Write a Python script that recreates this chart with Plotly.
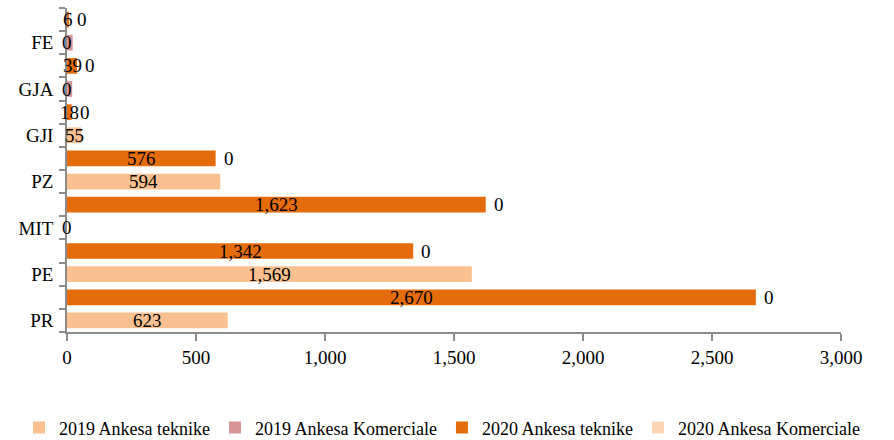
import plotly.graph_objects as go

categories = ["PR", "PE", "MIT", "PZ", "GJI", "GJA", "FE"]
teknike_2019 = [623, 1569, 0, 594, 55, 0, 0]
komerciale_2019 = [0, 0, 0, 0, 0, 20, 22]
teknike_2020 = [2670, 1342, 1623, 576, 18, 39, 6]
komerciale_2020 = [0, 0, 0, 0, 0, 0, 0]
x_ticks = [0, 500, 1000, 1500, 2000, 2500, 3000]

names = ["2019 Ankesa teknike", "2019 Ankesa Komerciale",
         "2020 Ankesa teknike", "2020 Ankesa Komerciale"]
colors = ["#FAC090", "#D99594", "#E46C0A", "#FCD5B5"]

FONT = "Liberation Serif"
FS = 19
slots_2019 = [2 * i for i in range(len(categories))]
slots_2020 = [2 * i + 1 for i in range(len(categories))]

fig = go.Figure()
series = [
    (teknike_2019, slots_2019, [0] * len(categories)),
    (komerciale_2019, slots_2019, teknike_2019),
    (teknike_2020, slots_2020, [0] * len(categories)),
    (komerciale_2020, slots_2020, teknike_2020),
]
for (vals, slots, base), name, col in zip(series, names, colors):
    fig.add_trace(go.Bar(
        x=vals, y=slots, base=base, orientation="h", name=name,
        marker=dict(color=col, line=dict(width=0)), width=0.68,
    ))

ann = []
for vals, slots in [(teknike_2019, slots_2019), (teknike_2020, slots_2020)]:
    for v, s in zip(vals, slots):
        ann.append(dict(x=v / 2, y=s, text=f"{v:,}", showarrow=False,
                        xanchor="center", yanchor="middle"))
for v, b, s in zip(komerciale_2020, teknike_2020, slots_2020):
    ann.append(dict(x=b + v, y=s, text=f"{v:,}", showarrow=False,
                    xanchor="left", yanchor="middle", xshift=6))

fig.update_layout(
    width=894, height=440,
    margin=dict(l=67, r=53, t=8, b=108, autoexpand=False),
    paper_bgcolor="white", plot_bgcolor="white",
    barmode="overlay",
    font=dict(family=FONT, size=FS, color="black"),
    annotations=[dict(a, font=dict(family=FONT, size=FS, color="black")) for a in ann],
    showlegend=True,
    legend=dict(orientation="h", x=-0.062, xanchor="left",
                y=-0.296, yanchor="middle", font=dict(size=18),
                traceorder="normal", itemwidth=30, tracegroupgap=0,
                bgcolor="rgba(0,0,0,0)"),
)
fig.update_xaxes(
    range=[0, 3000], tickvals=x_ticks, tickformat=",", tickangle=0,
    showline=True, linecolor="#8C8C8C", linewidth=1.5,
    ticks="outside", ticklen=7, tickcolor="#8C8C8C", tickwidth=1.5,
    showgrid=False, zeroline=False,
)
fig.update_yaxes(
    range=[-0.5, 2 * len(categories) - 0.5],
    tickmode="array", tickvals=slots_2019, ticktext=categories,
    showline=True, linecolor="#8C8C8C", linewidth=1.5,
    ticks="", ticklabelstandoff=8,
    minor=dict(tickmode="linear", tick0=-0.5, dtick=1, ticks="outside",
               ticklen=6, tickcolor="#8C8C8C", tickwidth=1.5, showgrid=False),
    showgrid=False, zeroline=False,
)

fig.write_html(
    "out.html",
    config={"displayModeBar": False},
    post_script="document.body.style.margin='0';document.body.style.overflow='hidden';",
)
